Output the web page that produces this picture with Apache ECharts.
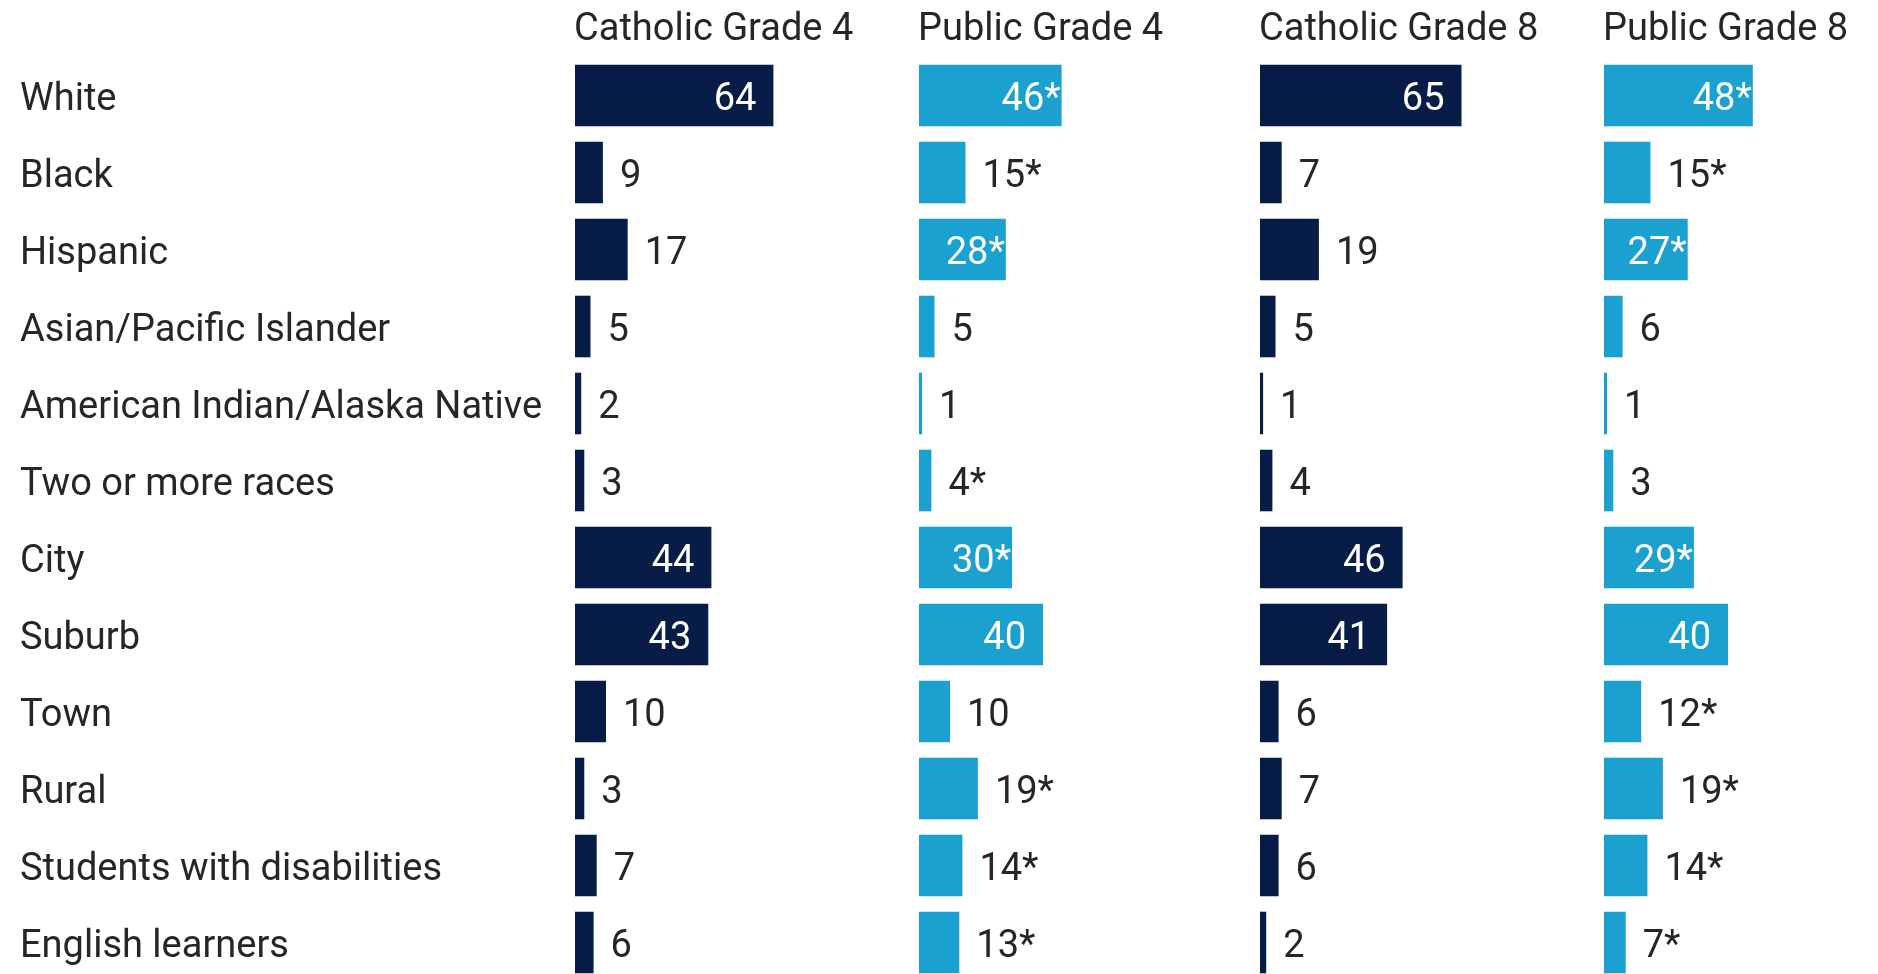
<!DOCTYPE html>
<html>
<head>
<meta charset="utf-8">
<style>
  html, body { margin: 0; padding: 0; background: #fff; }
  #chart { width: 1878px; height: 974px; }
</style>
<script src="https://cdn.jsdelivr.net/npm/echarts@6/dist/echarts.min.js"></script>
</head>
<body>
<div id="chart"></div>
<script>
const categories = [
  "White", "Black", "Hispanic", "Asian/Pacific Islander",
  "American Indian/Alaska Native", "Two or more races",
  "City", "Suburb", "Town", "Rural",
  "Students with disabilities", "English learners"
];
const panelTitles = ["Catholic Grade 4", "Public Grade 4", "Catholic Grade 8", "Public Grade 8"];

const catholicG4 = [64, 9, 17, 5, 2, 3, 44, 43, 10, 3, 7, 6];
const publicG4 = [46, 15, 28, 5, 1, 4, 30, 40, 10, 19, 14, 13];
const catholicG8 = [65, 7, 19, 5, 1, 4, 46, 41, 6, 7, 6, 2];
const publicG8 = [48, 15, 27, 6, 1, 3, 29, 40, 12, 19, 14, 7];

// 1 = significantly different from Catholic schools (marked with *)
const catholicG4Sig = [0, 0, 0, 0, 0, 0, 0, 0, 0, 0, 0, 0];
const publicG4Sig = [1, 1, 1, 0, 0, 1, 1, 0, 0, 1, 1, 1];
const catholicG8Sig = [0, 0, 0, 0, 0, 0, 0, 0, 0, 0, 0, 0];
const publicG8Sig = [1, 1, 1, 0, 0, 0, 1, 0, 1, 1, 1, 1];

const navy = "#071d48";
const blue = "#1aa1cf";
const textColor = "#262626";
const fontSize = 38;

const panels = [
  { values: catholicG4, sig: catholicG4Sig, color: navy },
  { values: publicG4, sig: publicG4Sig, color: blue },
  { values: catholicG8, sig: catholicG8Sig, color: navy },
  { values: publicG8, sig: publicG8Sig, color: blue }
];
const lefts = [575, 919, 1260, 1604];
const gridTop = 57;
const rowH = 77;

const chart = echarts.init(document.getElementById("chart"));

const grid = [], xAxis = [], yAxis = [], series = [], title = [];
panels.forEach(function (p, i) {
  grid.push({
    left: lefts[i],
    top: gridTop,
    width: 310,
    height: rowH * categories.length,
    outerBoundsMode: "none",
    containLabel: false
  });
  xAxis.push({ gridIndex: i, type: "value", min: 0, max: 100, show: false });
  yAxis.push({
    gridIndex: i,
    type: "category",
    inverse: true,
    data: categories,
    axisLine: { show: false },
    axisTick: { show: false },
    axisLabel: {
      show: i === 0,
      align: "left",
      margin: lefts[0] - 20,
      formatter: "{a|{value}}",
      rich: {
        a: { fontFamily: "Roboto", fontSize: fontSize, color: textColor, padding: [9, 0, 0, 0] }
      }
    }
  });
  title.push({
    text: panelTitles[i],
    left: lefts[i] - 6,
    top: 6,
    textStyle: { fontFamily: "Roboto", fontSize: fontSize, fontWeight: "normal", color: textColor }
  });
  series.push({
    type: "bar",
    xAxisIndex: i,
    yAxisIndex: i,
    barCategoryGap: "20%",
    itemStyle: { color: p.color },
    data: p.values.map(function (v, j) {
      const star = p.sig[j] === 1;
      const inside = v > 20;
      const c = inside ? "#fff" : textColor;
      return {
        value: v,
        label: {
          show: true,
          position: inside ? "insideRight" : "right",
          distance: inside ? (star ? 1 : 17) : 17,
          formatter: star ? "{n|{c}}{s|*}" : "{n|{c}}",
          rich: {
            n: { fontFamily: "Roboto", fontSize: fontSize, color: c, padding: [9, 0, 0, 0] },
            s: { fontFamily: "Roboto", fontSize: fontSize, color: c, padding: [9, 0, 0, 0] }
          }
        }
      };
    })
  });
});

chart.setOption({
  animation: false,
  title: title,
  grid: grid,
  xAxis: xAxis,
  yAxis: yAxis,
  series: series
});
</script>
</body>
</html>
